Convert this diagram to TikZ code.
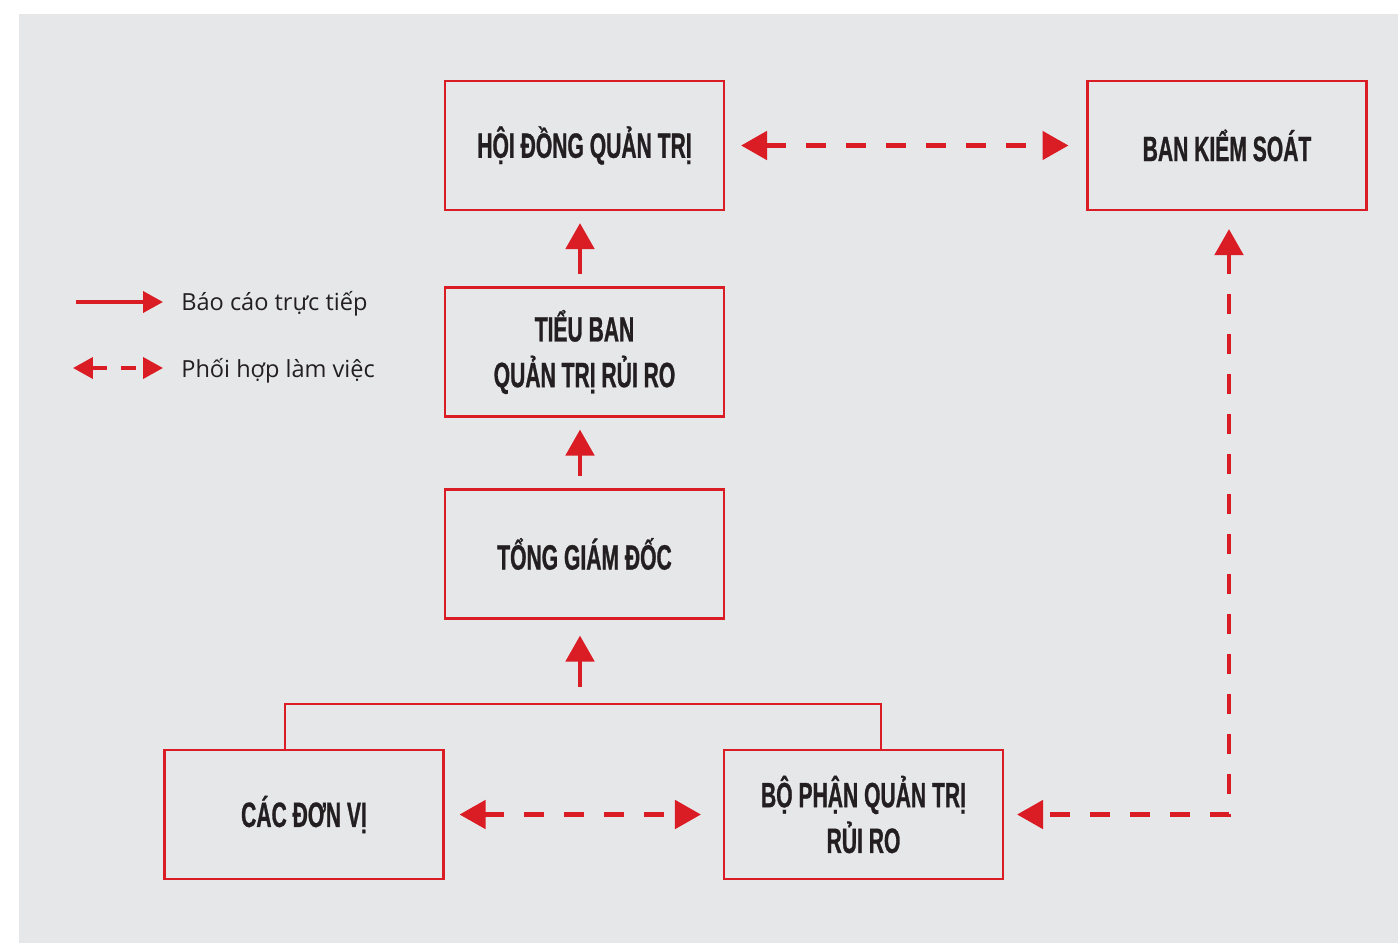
\documentclass[tikz,border=0pt]{standalone}
\usepackage{fontspec}
\setmainfont{Open Sans}
\newfontfamily\boxfont[FakeStretch=0.6,FakeBold=0.8]{Liberation Sans}
\usepackage{tikz}
\usetikzlibrary{arrows.meta,calc}
\definecolor{bg}{HTML}{E6E7E9}
\definecolor{redline}{HTML}{DA1C24}
\definecolor{ink}{HTML}{231F20}
\tikzset{
  box/.style={draw=redline, line width=1.2pt, minimum width=5.58cm, minimum height=2.58cm,
    inner sep=0pt, align=center, text=ink, font=\boxfont\bfseries\fontsize{20}{26}\selectfont},
  report/.style={draw=redline, line width=2.8pt, -{Triangle[length=0.52cm,width=0.56cm]},
    shorten <=0.24cm, shorten >=0.24cm},
  coop/.style={draw=redline, line width=2.8pt, dash pattern=on 0.4cm off 0.4cm,
    {Triangle[length=0.52cm,width=0.56cm]}-{Triangle[length=0.52cm,width=0.56cm]}},
  link/.style={draw=redline, line width=1.2pt},
  keyline/.style={draw=redline, line width=2.2pt},
  legend/.style={text=ink, font=\fontsize{13.4}{17}\selectfont, anchor=base west, inner sep=0pt},
}

\begin{document}
\begin{tikzpicture}[x=0.02cm, y=-0.02cm]
  % page and grey panel
  \useasboundingbox (0,0) rectangle (1398,943);
  \fill[bg] (19,14) rectangle (1398,943);

  % boxes
  \node[box] (hdqt) at (584.5,145.5) {HỘI ĐỒNG QUẢN TRỊ};
  \node[box] (bks) at (1227,145.5) {BAN KIỂM SOÁT};
  \node[box] (tb) at (584.5,352) {TIỂU BAN\\QUẢN TRỊ RỦI RO};
  \node[box] (tgd) at (584.5,554) {TỔNG GIÁM ĐỐC};
  \node[box] (dv) at (304,814.5) {CÁC ĐƠN VỊ};
  \node[box] (bp) at (863.5,814.5) {BỘ PHẬN QUẢN TRỊ\\RỦI RO};

  % bracket over the two lower boxes
  \coordinate (brl) at (285,704);
  \coordinate (brr) at (881,704);
  \coordinate (brm) at (580,704);
  \draw[link] (dv.north -| brl) -- (brl) -- (brr) -- (bp.north -| brr);

  % direct reporting
  \draw[report, shorten <=0.34cm, shorten >=0.32cm] (brm) -- (tgd.south -| brm);
  \draw[report] (tgd.north -| brm) -- (tb.south -| brm);
  \draw[report] (tb.north -| brm) -- (hdqt.south -| brm);

  % coordination
  \draw[coop, shorten <=0.32cm, shorten >=0.36cm] (hdqt.east) -- (bks.west);
  \draw[coop, shorten <=0.3cm, shorten >=0.44cm] (dv.east) -- (bp.west);
  \coordinate (turn) at (1229,814.5);
  \draw[coop, shorten <=0.36cm, shorten >=0.26cm] (bks.south -| turn) -- (turn) -- (bp.east);

  % legend
  \coordinate (k1a) at (76,302);
  \coordinate (k1b) at (163,302);
  \coordinate (k2a) at (73,368);
  \coordinate (k2b) at (163,368);
  \draw[keyline, -{Triangle[length=0.4cm,width=0.42cm]}] (k1a) -- (k1b);
  \draw[keyline, dash pattern=on 0.3cm off 0.28cm,
    {Triangle[length=0.4cm,width=0.42cm]}-{Triangle[length=0.4cm,width=0.42cm]}] (k2a) -- (k2b);
  \node[legend] (l1) at (181,310) {Báo cáo trực tiếp};
  \node[legend] (l2) at (181,377) {Phối hợp làm việc};
\end{tikzpicture}
\end{document}
